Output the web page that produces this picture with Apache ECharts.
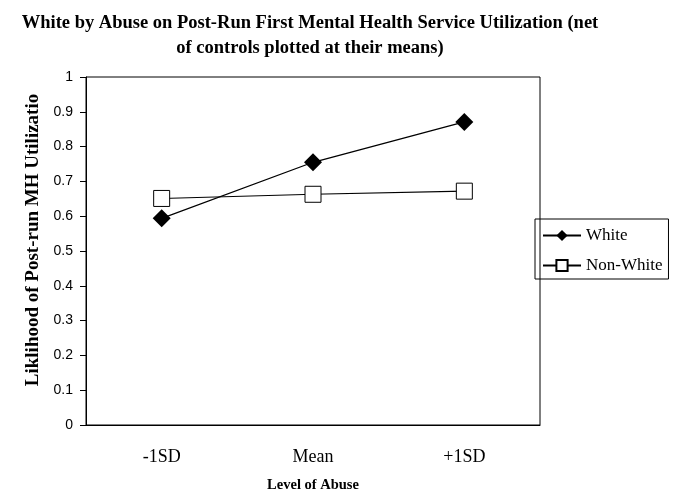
<!DOCTYPE html>
<html>
<head>
<meta charset="utf-8">
<script src="https://cdn.jsdelivr.net/npm/echarts@6/dist/echarts.min.js"></script>
<style>
  html, body { margin: 0; padding: 0; background: #fff; }
  #chart { width: 678px; height: 495px; }
</style>
</head>
<body>
<div id="chart"></div>
<script>
// data
var categories = ['-1SD', 'Mean', '+1SD']
var white = [0.594, 0.755, 0.871]
var nonWhite = [0.651, 0.663, 0.672]
var yTicks = [0, 0.1, 0.2, 0.3, 0.4, 0.5, 0.6, 0.7, 0.8, 0.9, 1]

var serif = '"Liberation Serif", "Times New Roman", serif'
var sans = '"Liberation Sans", Arial, sans-serif'

var chart = echarts.init(document.getElementById('chart'))
chart.setOption({
  animation: false,
  title: {
    text: 'White by Abuse on Post-Run First Mental Health Service Utilization (net\nof controls plotted at their means)',
    left: 305,
    textAlign: 'center',
    top: 6,
    textStyle: {
      fontFamily: serif,
      fontWeight: 'bold',
      fontSize: 18.5,
      lineHeight: 25,
      color: '#000'
    }
  },
  grid: {
    left: 86,
    right: 138,
    top: 77,
    bottom: 70,
    outerBoundsMode: 'none',
    containLabel: false,
    show: true,
    borderColor: '#000',
    borderWidth: 1
  },
  legend: {
    orient: 'vertical',
    left: 535,
    top: 219,
    padding: [8, 6, 5, 7],
    itemGap: 13,
    itemWidth: 38,
    itemHeight: 14,
    borderColor: '#000',
    borderWidth: 1,
    textStyle: { fontFamily: serif, fontSize: 17, color: '#000' },
    data: ['White', 'Non-White']
  },
  xAxis: {
    type: 'category',
    data: categories,
    name: 'Level of Abuse',
    nameLocation: 'middle',
    nameGap: 53,
    nameTextStyle: { fontFamily: serif, fontWeight: 'bold', fontSize: 14.5, color: '#000' },
    axisLine: { lineStyle: { color: '#000' } },
    axisTick: { length: 6, lineStyle: { color: '#000' } },
    axisLabel: { fontFamily: serif, fontSize: 18, color: '#000', margin: 23 }
  },
  yAxis: {
    type: 'value',
    min: 0,
    max: 1,
    interval: 0.1,
    name: 'Liklihood of Post-run MH Utilizatio',
    nameLocation: 'middle',
    nameGap: 43,
    nameTextStyle: { fontFamily: serif, fontWeight: 'bold', fontSize: 19, color: '#000', padding: [0, 0, 0, 22] },
    axisLine: { show: true, lineStyle: { color: '#000' } },
    axisTick: { show: true, length: 6, lineStyle: { color: '#000' } },
    splitLine: { show: false },
    axisLabel: {
      fontFamily: sans,
      fontSize: 14,
      color: '#000',
      margin: 13,
      formatter: function (v) {
        var t = yTicks.find(function (k) { return Math.abs(k - v) < 1e-6 })
        return t === undefined ? '' : String(t)
      }
    }
  },
  series: [
    {
      name: 'White',
      type: 'line',
      data: white,
      symbol: 'diamond',
      symbolSize: 18,
      itemStyle: { color: '#000' },
      lineStyle: { color: '#000', width: 1.3 }
    },
    {
      name: 'Non-White',
      type: 'line',
      data: nonWhite,
      symbol: 'rect',
      symbolSize: 16,
      itemStyle: { color: '#fff', borderColor: '#000', borderWidth: 1 },
      lineStyle: { color: '#000', width: 1.1 }
    }
  ]
})
</script>
</body>
</html>
